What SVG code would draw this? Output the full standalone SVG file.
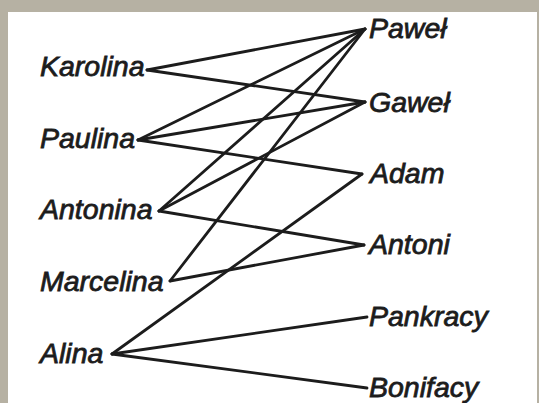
<svg xmlns="http://www.w3.org/2000/svg" width="539" height="403" viewBox="0 0 539 403">
<style>
.lbl{font-family:"Liberation Sans",Arial,sans-serif;font-style:italic;font-size:28.5px;fill:#1c1c1c;stroke:#1c1c1c;stroke-width:0.8}
.edge{stroke:#1c1c1c;stroke-width:2.8;stroke-linecap:round;fill:none}
</style>
<rect x="0" y="0" width="539" height="403" fill="#b6b1a3"/>
<rect x="8" y="12" width="529" height="391" fill="#ffffff"/>
<g id="connectors">
<line class="edge" x1="147" y1="70" x2="365" y2="29"/>
<line class="edge" x1="147" y1="70" x2="365" y2="102"/>
<line class="edge" x1="138" y1="140" x2="365" y2="29"/>
<line class="edge" x1="138" y1="140" x2="365" y2="102"/>
<line class="edge" x1="138" y1="140" x2="362" y2="174"/>
<line class="edge" x1="159" y1="211" x2="365" y2="29"/>
<line class="edge" x1="159" y1="211" x2="365" y2="102"/>
<line class="edge" x1="159" y1="211" x2="364" y2="245"/>
<line class="edge" x1="170" y1="281" x2="365" y2="29"/>
<line class="edge" x1="170" y1="281" x2="364" y2="245"/>
<line class="edge" x1="112" y1="354" x2="362" y2="174"/>
<line class="edge" x1="112" y1="354" x2="367" y2="317"/>
<line class="edge" x1="112" y1="354" x2="367" y2="388"/>
</g>
<g id="karolina"><text class="lbl" x="40" y="76">Karolina</text></g>
<g id="paulina"><text class="lbl" x="40" y="148">Paulina</text></g>
<g id="antonina"><text class="lbl" x="40" y="219">Antonina</text></g>
<g id="marcelina"><text class="lbl" x="40" y="291">Marcelina</text></g>
<g id="alina"><text class="lbl" x="40" y="363">Alina</text></g>
<g id="pawel"><text class="lbl" x="369" y="38">Paweł</text></g>
<g id="gawel"><text class="lbl" x="369" y="112">Gaweł</text></g>
<g id="adam"><text class="lbl" x="370" y="183">Adam</text></g>
<g id="antoni"><text class="lbl" x="369" y="254">Antoni</text></g>
<g id="pankracy"><text class="lbl" x="369" y="326">Pankracy</text></g>
<g id="bonifacy"><text class="lbl" x="369" y="397">Bonifacy</text></g>
</svg>
